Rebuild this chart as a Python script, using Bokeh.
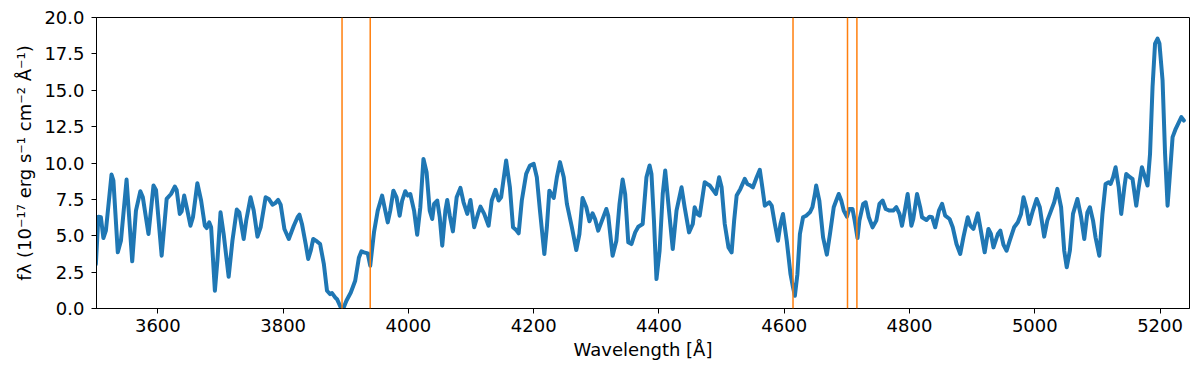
from bokeh.plotting import figure
from bokeh.models import Range1d, FixedTicker, NumeralTickFormatter, Span
from bokeh.embed import file_html
from bokeh.resources import INLINE

wavelength = [
    3501, 3505, 3509, 3513, 3517, 3526, 3529, 3536, 3541, 3550, 3559, 3565, 3572, 3576, 3585,
    3593, 3597, 3606, 3614, 3621, 3627, 3630, 3635, 3638, 3642, 3646, 3652, 3656, 3663, 3669,
    3675, 3678, 3682, 3685, 3691, 3695, 3700, 3705, 3713, 3719, 3726, 3730, 3737, 3741, 3748,
    3753, 3759, 3764, 3772, 3777, 3783, 3787, 3792, 3796, 3802, 3809,
    3817, 3823, 3826, 3830, 3836, 3840, 3844, 3848, 3854, 3859, 3865, 3870, 3875, 3878, 3883,
    3886, 3892, 3897, 3901, 3908, 3915, 3921, 3925, 3929, 3935, 3939, 3945, 3951, 3958, 3963,
    3967, 3971, 3976, 3981, 3986, 3990, 3995, 3999, 4003, 4009, 4014, 4019, 4024, 4029, 4034,
    4038, 4041, 4046, 4050, 4054, 4059, 4062, 4066, 4071, 4077, 4083, 4088, 4094, 4099, 4105,
    4111, 4115, 4121, 4128, 4133, 4139, 4144, 4148,
    4156, 4162, 4167, 4172, 4176, 4181, 4188, 4194, 4200, 4205, 4210, 4217, 4221, 4225, 4232,
    4237, 4242, 4248, 4253, 4261, 4268, 4273, 4278, 4284, 4289, 4294, 4298, 4303, 4309, 4316,
    4319, 4326, 4332, 4337, 4342, 4346, 4351, 4356, 4362, 4367, 4374, 4380, 4385, 4388, 4392,
    4396, 4401, 4406, 4410, 4415, 4422, 4428, 4436, 4441, 4448, 4454, 4457, 4461, 4465, 4473,
    4477,
    4481, 4487, 4491, 4496, 4500, 4505, 4511, 4516, 4520, 4524, 4530, 4537, 4541, 4546, 4550,
    4556, 4561, 4565, 4569, 4576, 4580, 4585, 4590, 4594, 4598, 4604, 4610, 4614, 4617, 4621,
    4625, 4630, 4635, 4641, 4645, 4649, 4651, 4656, 4662, 4668, 4673, 4679, 4683, 4687, 4691,
    4695, 4700, 4704, 4709, 4712, 4717, 4720, 4726, 4730, 4735, 4741, 4747, 4752, 4757, 4762,
    4768, 4774, 4779, 4784, 4788, 4792, 4797, 4803, 4806, 4812, 4817,
    4820, 4827, 4832, 4836, 4841, 4847, 4852, 4857, 4864, 4869, 4875, 4881, 4886, 4893, 4897,
    4902, 4909, 4913, 4920, 4926, 4930, 4934, 4941, 4945, 4950, 4955, 4960, 4967, 4973, 4978,
    4982, 4987, 4991, 4997, 5003, 5008, 5015, 5020, 5026, 5031, 5036, 5042, 5047, 5051, 5056,
    5061, 5068, 5074, 5079, 5084, 5088, 5093, 5097, 5103, 5108, 5113, 5118, 5121, 5125, 5129,
    5134, 5138, 5143, 5146, 5152, 5156, 5162, 5166, 5171, 5176, 5180, 5184, 5188, 5192, 5196,
    5199, 5204, 5208, 5212, 5215, 5220, 5225, 5229, 5234, 5238,
]

flux = [
    3.05, 6.31, 6.27, 4.84, 5.35, 9.21, 8.79, 3.86, 4.66, 8.86, 3.24, 6.73, 8.06, 7.64, 5.12,
    8.45, 8.15, 3.63, 7.53, 7.87, 8.38, 8.15, 6.50, 6.68, 7.76, 6.96, 5.69, 6.27, 8.61, 7.42,
    5.69, 5.53, 5.92, 5.58, 1.22, 3.28, 6.61, 5.12, 2.18, 4.66, 6.80, 6.61, 4.78, 6.04, 7.64,
    6.73, 4.94, 5.58, 7.64, 7.53, 7.14, 7.23, 7.46, 7.14, 5.46, 4.78,
    5.69, 6.27, 6.45, 5.81, 4.43, 3.40, 3.97, 4.78, 4.61, 4.43, 3.05, 1.22, 0.99, 1.06, 0.76,
    0.64, 0.07, 0.11, 0.53, 1.10, 1.91, 3.51, 3.93, 3.86, 3.79, 2.94, 5.23, 6.73, 7.76, 6.73,
    5.92, 6.73, 8.10, 7.64, 6.38, 7.42, 8.06, 7.76, 7.87, 6.73, 5.07, 6.96, 10.28, 9.37, 6.73,
    6.15, 7.19, 7.42, 6.27, 4.32, 6.73, 7.46, 6.38, 5.30, 7.64, 8.29, 7.30, 6.50, 7.46, 5.58,
    6.50, 7.00, 6.50, 5.69, 7.42, 8.15, 7.42, 7.64,
    10.17, 8.33, 5.58, 5.39, 5.17, 7.42, 9.25, 9.83, 9.94, 9.02, 6.73, 3.74, 5.58, 8.10, 7.60,
    9.02, 10.06, 9.02, 7.19, 5.58, 4.02, 5.12, 7.60, 6.96, 6.00, 6.54, 6.15, 5.35, 6.04, 6.84,
    6.38, 3.63, 4.66, 7.19, 8.86, 7.87, 4.55, 4.43, 5.23, 5.62, 5.81, 9.02, 9.83, 9.25, 6.04,
    2.02, 3.97, 7.87, 9.48, 7.19, 4.09, 6.73, 8.33, 6.96, 5.23, 5.81, 6.96, 6.50, 6.38, 8.68,
    8.56,
    8.45, 8.10, 7.87, 9.02, 8.33, 5.81, 4.20, 3.86, 6.04, 7.76, 8.22, 8.91, 8.56, 8.45, 8.33,
    9.02, 9.53, 8.33, 7.07, 7.30, 7.07, 5.81, 4.66, 5.81, 6.50, 4.66, 2.36, 1.45, 0.87, 2.36,
    5.12, 6.27, 6.38, 6.61, 6.96, 7.87, 8.45, 7.42, 4.89, 3.70, 5.12, 6.96, 7.42, 7.87, 7.42,
    6.73, 6.31, 6.84, 6.84, 6.15, 4.84, 6.04, 7.19, 7.30, 6.27, 5.58, 6.04, 7.19, 7.42, 6.84,
    6.73, 6.73, 6.96, 6.50, 5.69, 6.61, 7.87, 5.69, 6.15, 7.87, 6.96,
    6.27, 6.08, 6.31, 6.27, 5.58, 6.73, 7.19, 6.38, 6.15, 5.58, 4.43, 3.75, 4.89, 6.27, 5.70,
    5.47, 6.54, 5.58, 3.86, 5.47, 5.12, 4.20, 5.12, 5.35, 4.38, 3.97, 4.66, 5.58, 5.93, 6.50,
    7.64, 6.84, 5.81, 6.73, 7.53, 6.96, 4.94, 6.04, 6.73, 7.30, 8.22, 6.96, 3.97, 2.83, 3.97,
    6.50, 7.53, 6.27, 4.78, 6.61, 6.96, 6.04, 4.89, 3.63, 6.50, 8.56, 8.68, 8.56, 9.02, 9.71,
    8.33, 6.50, 8.33, 9.25, 9.02, 8.91, 7.07, 8.33, 9.71, 9.02, 8.45, 10.63, 15.22, 18.21, 18.55,
    18.21, 15.68, 10.63, 7.07, 8.79, 11.78, 12.35, 12.70, 13.15, 12.92,
]

line_positions = [3894, 3939, 4614, 4701, 4716]
x_ticks = [3600, 3800, 4000, 4200, 4400, 4600, 4800, 5000, 5200]
y_ticks = [0.0, 2.5, 5.0, 7.5, 10.0, 12.5, 15.0, 17.5, 20.0]

p = figure(
    width=1200, height=373,
    output_backend="svg", toolbar_location=None,
    x_range=Range1d(3502, 5247), y_range=Range1d(0, 20),
    min_border_left=96, min_border_right=11, min_border_top=17, min_border_bottom=65,
    background_fill_color="white", border_fill_color="white",
)

p.line(wavelength, flux, line_width=4, line_color="#1f77b4", line_join="round", line_cap="round")

for xv in line_positions:
    p.add_layout(Span(location=xv, dimension="height", line_color="#ff7f0e", line_width=1.5))

p.xgrid.visible = False
p.ygrid.visible = False
p.outline_line_color = "black"
p.outline_line_width = 1
p.outline_line_alpha = 1.0

p.xaxis.ticker = FixedTicker(ticks=x_ticks, minor_ticks=[])
p.yaxis.ticker = FixedTicker(ticks=y_ticks, minor_ticks=[])
p.yaxis.formatter = NumeralTickFormatter(format="0.0")

for ax in (p.xaxis, p.yaxis):
    ax.axis_line_color = "black"
    ax.major_tick_line_color = "black"
    ax.major_tick_out = 5
    ax.major_tick_in = 0
    ax.minor_tick_line_color = None
    ax.major_label_text_font = "DejaVu Sans"
    ax.major_label_text_font_size = "18px"
    ax.major_label_text_color = "black"
    ax.axis_label_text_font = "DejaVu Sans"
    ax.axis_label_text_font_size = "18px"
    ax.axis_label_text_font_style = "normal"
    ax.axis_label_text_color = "black"

p.xaxis.axis_label = "Wavelength [Å]"
p.xaxis.major_label_standoff = 5
p.xaxis.axis_label_standoff = 4
p.yaxis.axis_label = "fλ (10⁻¹⁷ erg s⁻¹ cm⁻² Å⁻¹)"
p.yaxis.major_label_standoff = 7
p.yaxis.axis_label_standoff = 6

open("out.html", "w").write(file_html(p, INLINE))
